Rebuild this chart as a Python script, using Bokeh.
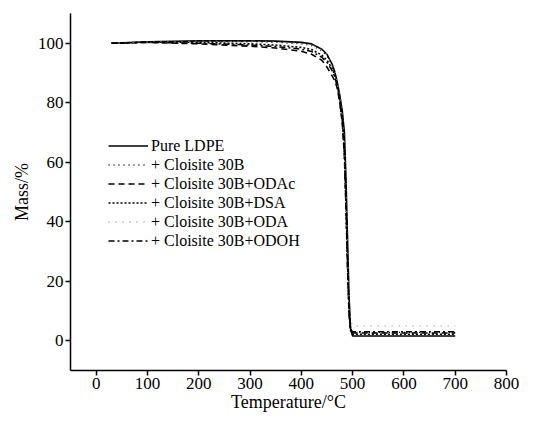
from bokeh.plotting import figure
from bokeh.models import Range1d, FixedTicker, Legend, LegendItem
from bokeh.embed import file_html
from bokeh.resources import INLINE

# ---- data ----
temperature = [30, 100, 200, 300, 350, 400, 420, 440, 450, 460, 465, 470, 475,
               480, 484, 487, 490, 493, 496, 500, 550, 600, 650, 700]
pure_ldpe = [100.0, 100.5, 100.8, 100.8, 100.7, 100.3, 99.8, 98.0, 96.3, 93.0, 90.5,
             87.0, 82.5, 77.0, 70.0, 55.0, 35.0, 15.0, 4.0, 1.6, 1.6, 1.6, 1.6, 1.6]
c30b = [100.0, 100.4, 100.6, 100.5, 100.3, 99.8, 99.2, 97.5, 95.8, 92.5, 90.0,
        86.0, 81.0, 75.0, 66.0, 50.0, 30.0, 12.0, 4.5, 2.8, 2.8, 2.8, 2.8, 2.8]
c30b_odac = [100.0, 100.3, 99.8, 99.0, 98.4, 97.3, 96.3, 94.3, 92.0, 89.0, 87.5,
             85.0, 80.0, 73.0, 62.0, 45.0, 25.0, 9.0, 3.5, 2.6, 2.6, 2.6, 2.6, 2.6]
c30b_dsa = [100.0, 100.4, 100.3, 99.8, 99.4, 98.6, 97.9, 96.0, 94.3, 91.5, 89.3,
            86.0, 81.0, 74.0, 64.0, 47.0, 27.0, 10.0, 3.5, 2.2, 2.2, 2.2, 2.2, 2.2]
c30b_oda = [100.0, 100.5, 100.7, 100.6, 100.4, 99.9, 99.4, 97.8, 96.2, 93.3, 91.0,
            87.0, 82.0, 75.5, 67.0, 52.0, 33.0, 15.0, 7.0, 5.0, 5.0, 5.0, 5.0, 5.0]
c30b_odoh = [100.0, 100.3, 100.0, 99.4, 98.9, 98.0, 97.2, 95.3, 93.6, 90.8, 88.8,
             85.5, 80.5, 73.5, 63.0, 46.0, 26.0, 9.5, 3.8, 3.0, 3.0, 3.0, 3.0, 3.0]

series_names = ["Pure LDPE", "+ Cloisite 30B", "+ Cloisite 30B+ODAc",
                "+ Cloisite 30B+DSA", "+ Cloisite 30B+ODA", "+ Cloisite 30B+ODOH"]
series_values = [pure_ldpe, c30b, c30b_odac, c30b_dsa, c30b_oda, c30b_odoh]

x_ticks = [0, 100, 200, 300, 400, 500, 600, 700, 800]
y_ticks = [0, 20, 40, 60, 80, 100]

# ---- styles ----
styles = [
    dict(line_color="black", line_width=1.6, line_dash="solid"),
    dict(line_color="black", line_width=1.3, line_dash="1 4"),
    dict(line_color="black", line_width=1.6, line_dash="6 4"),
    dict(line_color="black", line_width=1.6, line_dash="2 2"),
    dict(line_color="#9a9a9a", line_width=1.3, line_dash="1 6"),
    dict(line_color="black", line_width=1.5, line_dash="6 3 2 3"),
]

FONT = "Liberation Serif"

p = figure(width=526, height=416, output_backend="svg", toolbar_location=None,
           x_range=Range1d(-50, 800), y_range=Range1d(-10, 110),
           min_border_left=70, min_border_right=20, min_border_top=13,
           min_border_bottom=46)

p.outline_line_color = None
p.xgrid.grid_line_color = None
p.ygrid.grid_line_color = None
p.background_fill_color = "white"
p.border_fill_color = "white"

for ax, ticks in ((p.xaxis[0], x_ticks), (p.yaxis[0], y_ticks)):
    ax.ticker = FixedTicker(ticks=ticks)
    ax.axis_line_color = "black"
    ax.axis_line_width = 1.5
    ax.major_tick_line_color = "black"
    ax.major_tick_line_width = 1.5
    ax.major_tick_in = 0
    ax.major_tick_out = 5
    ax.minor_tick_line_color = None
    ax.major_label_text_font = FONT
    ax.major_label_text_font_size = "17px"
    ax.major_label_text_color = "black"
    ax.axis_label_text_font = FONT
    ax.axis_label_text_font_size = "18px"
    ax.axis_label_text_font_style = "normal"
    ax.axis_label_text_color = "black"

p.xaxis[0].major_label_standoff = 2
p.yaxis[0].major_label_standoff = 2
p.xaxis[0].axis_label = "Temperature/°C"
p.yaxis[0].axis_label = "Mass/%"
p.xaxis[0].axis_label_standoff = 0
p.yaxis[0].axis_label_standoff = 3

items = []
for name, vals, st in zip(series_names, series_values, styles):
    r = p.line(temperature, vals, **st)
    items.append(LegendItem(label=name, renderers=[r]))

legend = Legend(items=items, location=(38, 120), padding=0, margin=0,
                spacing=-1, glyph_width=40, glyph_height=19, label_height=19,
                label_standoff=3, border_line_color=None,
                background_fill_alpha=0, label_text_font=FONT,
                label_text_font_size="16px", label_text_color="black")
p.add_layout(legend, "center")

open("out.html", "w").write(file_html(p, INLINE))
